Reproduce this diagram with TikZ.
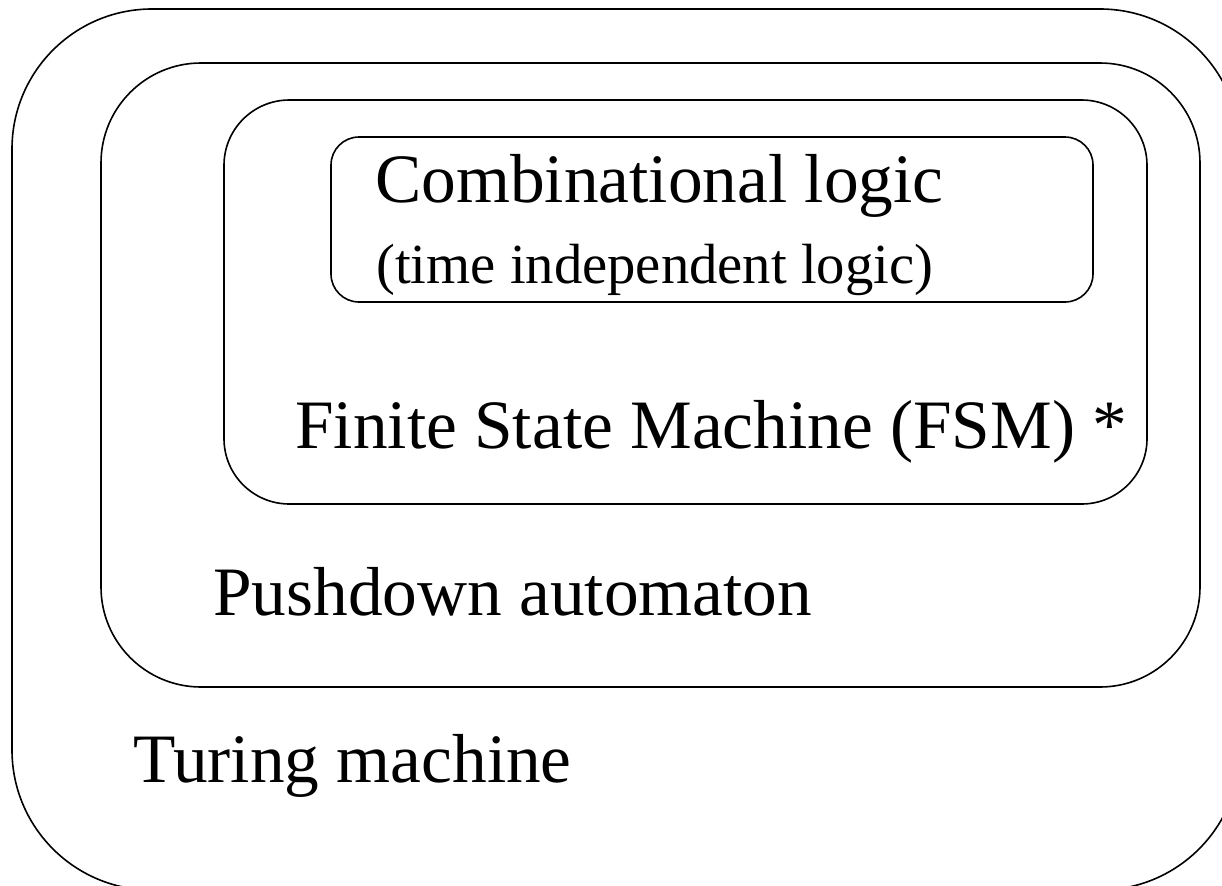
\documentclass[tikz,border=0pt]{standalone}
\usepackage{fontspec}
\setmainfont{Liberation Serif}
\usepackage{tikz}

\begin{document}
\begin{tikzpicture}[x=0.75pt,y=0.75pt,yscale=-1,xscale=1,
    levelbox/.style={draw, line width=1.2pt},
    bigtext/.style={anchor=base west, inner sep=0pt, font=\fontsize{52}{62}\selectfont},
    smalltext/.style={anchor=base west, inner sep=0pt, font=\fontsize{42.5}{51}\selectfont}]
    \useasboundingbox (0,0) rectangle (1222,886);

    %Rounded Rect (Turing machine)
    \draw [levelbox, rounded corners=105pt] (12,9) rectangle (1240,890) ;
    %Rounded Rect (Pushdown automaton)
    \draw [levelbox, rounded corners=75pt] (101,63) rectangle (1200,687) ;
    %Rounded Rect (FSM)
    \draw [levelbox, rounded corners=49pt] (224,100) rectangle (1147,504) ;
    %Rounded Rect (Combinational logic)
    \draw [levelbox, rounded corners=21pt] (331,137) rectangle (1093,302) ;

    % Text Node
    \draw (375,202) node (comb) [bigtext] {Combinational logic};
    % Text Node
    \draw (376,283) node (combsub) [smalltext] {(time independent logic)};
    % Text Node
    \draw (295,448) node (fsm) [bigtext] {Finite State Machine (FSM) *};
    % Text Node
    \draw (213,615) node (pda) [bigtext] {Pushdown automaton};
    % Text Node
    \draw (133,782) node (turing) [bigtext] {Turing machine};

\end{tikzpicture}
\end{document}
